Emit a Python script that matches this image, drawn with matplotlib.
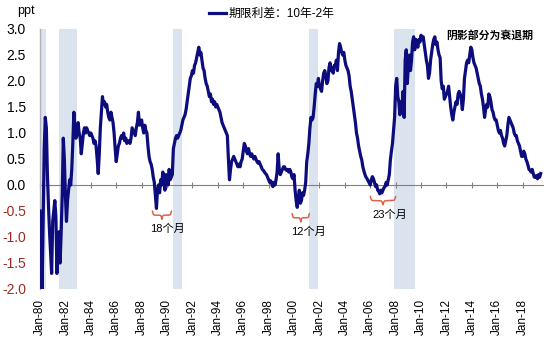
import numpy as np
import matplotlib
matplotlib.use("Agg")
import matplotlib.pyplot as plt

plt.rcParams['font.family'] = ['Liberation Sans', 'Noto Sans CJK SC', 'DejaVu Sans']

# 10y-2y treasury term spread, monthly, Jan 1980 - Jun 2019 (ppt)
start_year = 1980
spread = [
    -0.5, -1.1, -2.0, -0.6, 0.7, 1.3, 1.1, 0.2, -0.4, -0.9, -1.3, -1.7,      # 1980
    -0.7, -0.5, -0.3, -0.6, -1.7, -1.1, -0.9, -1.5, -0.9, -0.2, 0.9, 0.5,    # 1981
    -0.2, -0.7, -0.3, -0.1, 0.1, 0.0, 0.3, 0.8, 1.4, 1.1, 0.9, 1.0,          # 1982
    1.2, 1.0, 0.9, 0.6, 0.8, 1.0, 1.1, 1.0, 1.1, 1.05, 1.0, 0.95,            # 1983
    1.0, 0.95, 0.9, 0.8, 0.85, 0.75, 0.5, 0.22, 0.6, 1.1, 1.4, 1.7,          # 1984
    1.55, 1.6, 1.5, 1.55, 1.4, 1.3, 1.25, 1.4, 1.3, 1.2, 1.0, 0.7,           # 1985
    0.45, 0.6, 0.75, 0.8, 0.9, 0.95, 0.9, 1.0, 0.85, 0.9, 0.8, 0.85,         # 1986
    0.85, 0.8, 0.9, 1.1, 1.05, 1.0, 0.95, 1.1, 1.2, 1.4, 1.15, 1.2,          # 1987
    1.25, 1.1, 1.0, 1.15, 1.05, 1.0, 0.75, 0.55, 0.45, 0.4, 0.3, 0.15,       # 1988
    0.05, -0.2, -0.45, -0.1, 0.0, -0.15, 0.1, 0.0, 0.25, 0.1, -0.1, 0.2,     # 1989
    0.15, 0.0, 0.3, 0.1, 0.15, 0.2, 0.7, 0.8, 0.9, 0.95, 0.9, 0.95,          # 1990
    1.0, 1.05, 1.15, 1.25, 1.3, 1.35, 1.45, 1.6, 1.75, 1.9, 2.05, 2.1,       # 1991
    2.2, 2.15, 2.3, 2.35, 2.45, 2.55, 2.65, 2.5, 2.55, 2.4, 2.25, 2.2,       # 1992
    2.05, 1.95, 1.9, 1.8, 1.7, 1.75, 1.6, 1.65, 1.55, 1.6, 1.5, 1.55,        # 1993
    1.5, 1.45, 1.4, 1.3, 1.2, 1.15, 1.1, 1.05, 1.0, 0.95, 0.5, 0.1,          # 1994
    0.3, 0.45, 0.5, 0.55, 0.5, 0.45, 0.4, 0.35, 0.4, 0.35, 0.45, 0.5,        # 1995
    0.65, 0.8, 0.75, 0.65, 0.6, 0.7, 0.6, 0.55, 0.6, 0.55, 0.5, 0.55,        # 1996
    0.5, 0.45, 0.42, 0.45, 0.4, 0.35, 0.3, 0.28, 0.25, 0.22, 0.2, 0.15,      # 1997
    0.1, 0.05, 0.08, 0.02, -0.03, 0.05, 0.0, 0.1, 0.25, 0.6, 0.3, 0.2,       # 1998
    0.25, 0.3, 0.35, 0.35, 0.3, 0.28, 0.3, 0.25, 0.3, 0.25, 0.15, 0.12,      # 1999
    0.2, -0.1, -0.3, -0.43, -0.25, -0.1, -0.35, -0.3, -0.15, -0.2, -0.1, 0.05,  # 2000
    0.45, 0.6, 0.8, 1.1, 1.3, 1.25, 1.3, 1.5, 1.75, 1.95, 1.9, 2.05,         # 2001
    1.9, 1.85, 1.8, 2.0, 2.15, 2.2, 2.1, 1.95, 2.0, 2.25, 2.35, 2.2,         # 2002
    2.25, 2.15, 2.3, 2.3, 2.4, 2.2, 2.55, 2.72, 2.65, 2.55, 2.5, 2.55,       # 2003
    2.4, 2.3, 2.25, 2.2, 2.1, 1.9, 1.8, 1.65, 1.5, 1.35, 1.2, 1.0,           # 2004
    0.9, 0.75, 0.65, 0.55, 0.48, 0.35, 0.27, 0.2, 0.15, 0.12, 0.08, 0.04,    # 2005
    0.0, 0.1, 0.16, 0.12, 0.05, -0.03, 0.0, -0.1, -0.12, -0.17, -0.1, -0.15, # 2006
    -0.1, -0.05, -0.03, 0.05, 0.0, 0.1, 0.2, 0.48, 0.65, 0.8, 1.05, 1.3,     # 2007
    1.9, 2.05, 1.7, 1.6, 1.35, 1.6, 1.5, 1.8, 1.3, 2.4, 2.6, 1.95,           # 2008
    2.3, 2.5, 2.2, 2.4, 2.75, 2.85, 2.6, 2.8, 2.7, 2.65, 2.8, 2.75,          # 2009
    2.88, 2.8, 2.85, 2.7, 2.55, 2.4, 2.3, 2.05, 2.15, 2.4, 2.55, 2.7,        # 2010
    2.8, 2.85, 2.7, 2.75, 2.6, 2.5, 2.45, 2.0, 1.85, 1.9, 1.65, 1.7,         # 2011
    1.75, 1.8, 1.9, 1.7, 1.5, 1.35, 1.25, 1.4, 1.5, 1.6, 1.55, 1.75,         # 2012
    1.8, 1.75, 1.65, 1.45, 1.65, 2.05, 2.2, 2.35, 2.4, 2.35, 2.5, 2.65,      # 2013
    2.6, 2.45, 2.35, 2.3, 2.25, 2.15, 2.05, 1.95, 1.9, 1.75, 1.65, 1.5,      # 2014
    1.3, 1.45, 1.55, 1.5, 1.75, 1.7, 1.6, 1.45, 1.4, 1.3, 1.25, 1.25,        # 2015
    1.15, 1.05, 1.0, 1.05, 0.95, 0.9, 0.8, 0.75, 0.85, 0.95, 1.15, 1.3,      # 2016
    1.25, 1.2, 1.15, 1.1, 1.0, 0.95, 0.95, 0.85, 0.8, 0.75, 0.65, 0.55,      # 2017
    0.55, 0.65, 0.6, 0.5, 0.45, 0.38, 0.3, 0.28, 0.25, 0.3, 0.22, 0.15,      # 2018
    0.15, 0.18, 0.12, 0.2, 0.15, 0.22,                                       # 2019
]

# NBER recessions (decimal years)
recessions = [(1980.0, 1980.5), (1981.5, 1982.9), (1990.5, 1991.2),
              (2001.2, 2001.9), (2007.9, 2009.5)]

# inversion-period braces: (start, end, top y, label, label x, label y)
braces = [
    (1988.85, 1990.35, -0.50, "18个月", 1990.0, -0.85),
    (1999.85, 2001.20, -0.55, "12个月", 2001.1, -0.90),
    (2006.00, 2008.00, -0.22, "23个月", 2007.55, -0.57),
]

tick_years = list(range(1980, 2019, 2))
tick_labels = ["Jan-%02d" % (y % 100) for y in tick_years]
y_ticks = np.arange(-2.0, 3.01, 0.5)

line_color = "#0c0c7c"
shade_color = "#dbe3ef"
brace_color = "#e0604c"


def draw_brace(ax, x0, x1, y_top, depth, color):
    t = np.linspace(0, 0.5, 100)
    b = 45.0
    half = 1 / (1 + np.exp(-b * t)) + 1 / (1 + np.exp(-b * (t - 0.5)))
    shape = np.concatenate([half, half[-2::-1]])
    xs = np.linspace(x0, x1, len(shape))
    ys = y_top - depth * (shape - 0.5)
    ax.plot(xs, ys, color=color, lw=1.1, solid_capstyle="round")


fig = plt.figure(figsize=(5.46, 3.38), dpi=100)
ax = fig.add_axes([40 / 546, 49 / 338, 503 / 546, 260 / 338])

for a, b in recessions:
    ax.axvspan(a, b, color=shade_color, lw=0, zorder=0)

x = start_year + np.arange(len(spread)) / 12.0
ax.plot(x, spread, color=line_color, lw=2.3, label="期限利差：10年-2年", zorder=3)

ax.set_xlim(1980.0, 2019.6)
ax.set_ylim(-2.0, 3.0)

ax.set_yticks(y_ticks)
ax.set_yticklabels(["%.1f" % v for v in y_ticks])
for lab, v in zip(ax.get_yticklabels(), y_ticks):
    lab.set_color("#9c2b25" if v < 0 else "black")
ax.tick_params(axis="y", length=0, pad=10, labelsize=10)

ax.set_xticks(tick_years)
ax.set_xticklabels(tick_labels, rotation=90)
ax.tick_params(axis="x", length=0, pad=7, labelsize=8.5)

for s in ["top", "right", "bottom"]:
    ax.spines[s].set_visible(False)
ax.spines["left"].set_color("#b0b0b8")
ax.spines["left"].set_linewidth(1.0)

# zero line with its own tick marks
zero_frac = (0 - ax.get_ylim()[0]) / (ax.get_ylim()[1] - ax.get_ylim()[0])
zax = ax.secondary_xaxis(zero_frac)
zax.set_xticks(tick_years)
zax.set_xticklabels([])
zax.tick_params(direction="inout", length=5, color="#808080", width=0.8)
zax.spines["bottom"].set_color("#808080")
zax.spines["bottom"].set_linewidth(0.8)

for x0, x1, yt, txt, tx, ty in braces:
    draw_brace(ax, x0, x1, yt, 0.16, brace_color)
    ax.text(tx, ty, txt, ha="center", va="center", fontsize=8, color="black")

ax.text(2015.4, 2.88, "阴影部分为衰退期", ha="center", va="center",
        fontsize=7.8, fontweight="bold", color="black", zorder=4)

fig.text(17 / 546, 1 - 11 / 338, "ppt", ha="left", va="center", fontsize=9)

ax.legend(loc="center left", bbox_to_anchor=(209 / 546, 1 - 14 / 338),
          bbox_transform=fig.transFigure, frameon=False, fontsize=8.5,
          handlelength=1.4, handletextpad=0.25, borderaxespad=0, borderpad=0)

fig.savefig("out.png", dpi=100)
